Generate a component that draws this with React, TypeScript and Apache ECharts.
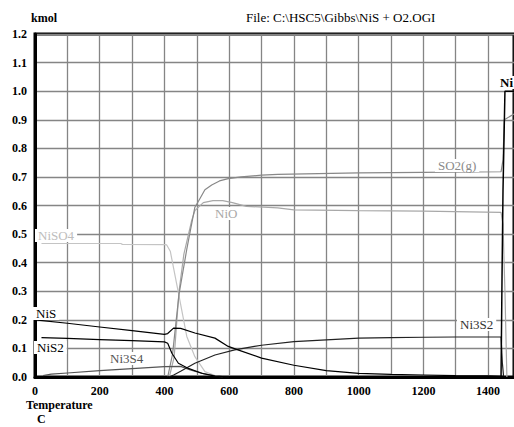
import React, { useEffect, useRef } from "react";
import * as echarts from "echarts";

// Temperature axis (C) and amount axis (kmol)
const xMin = 0;
const xMax = 1480;
const xStep = 100;
const yMin = 0;
const yMax = 1.2;
const yStep = 0.1;

// Species curves: [temperature C, kmol]
const nisSO4: [number, number][] = [
  [20, 0.467], [100, 0.467], [200, 0.467], [265, 0.467], [270, 0.464], [400, 0.463], [407, 0.462],
  [418, 0.44], [443, 0.295], [469, 0.142], [494, 0.071], [525, 0.019], [560, 0.003], [580, 0],
];
const nio: [number, number][] = [
  [415, 0], [430, 0.07], [445, 0.3], [460, 0.43], [484, 0.547], [494, 0.582], [520, 0.61],
  [550, 0.617], [580, 0.617], [610, 0.61], [653, 0.597], [750, 0.592], [800, 0.585],
  [1000, 0.582], [1200, 0.58], [1440, 0.576], [1446, 0.535], [1452, 0.3], [1458, 0],
];
const so2: [number, number][] = [
  [410, 0], [425, 0.08], [445, 0.29], [469, 0.447], [494, 0.594], [505, 0.615], [525, 0.655],
  [546, 0.672], [570, 0.686], [597, 0.694], [637, 0.7], [700, 0.706], [750, 0.709],
  [1000, 0.714], [1200, 0.716], [1440, 0.718], [1446, 0.76], [1450, 0.9], [1480, 0.92],
];
const ni3S4: [number, number][] = [
  [25, 0.005], [50, 0.01], [100, 0.014], [200, 0.022], [300, 0.029], [400, 0.036], [450, 0.037],
  [480, 0.025], [520, 0.012], [560, 0.003], [600, 0],
];
const ni3S2: [number, number][] = [
  [415, 0], [430, 0.008], [450, 0.02], [494, 0.048], [556, 0.077], [617, 0.095], [678, 0.107],
  [700, 0.111], [800, 0.124], [900, 0.13], [1000, 0.136], [1100, 0.138], [1200, 0.139],
  [1300, 0.14], [1400, 0.14], [1440, 0.14], [1444, 0.05], [1448, 0],
];
const nis: [number, number][] = [
  [0, 0.2], [100, 0.188], [200, 0.175], [300, 0.162], [400, 0.149], [410, 0.152], [428, 0.171],
  [450, 0.17], [494, 0.154], [556, 0.136], [597, 0.107], [627, 0.095], [700, 0.066],
  [800, 0.041], [900, 0.022], [1000, 0.013], [1100, 0.009], [1200, 0.007], [1300, 0.005],
  [1400, 0.004], [1445, 0.002], [1450, 0],
];
const nis2: [number, number][] = [
  [20, 0.138], [100, 0.135], [200, 0.131], [300, 0.127], [400, 0.123], [410, 0.118],
  [423, 0.083], [443, 0.048], [474, 0.03], [515, 0.013], [556, 0.003], [600, 0],
];
const ni: [number, number][] = [
  [0, 0], [1440, 0], [1443, 0.35], [1446, 0.65], [1452, 1.0], [1480, 1.0],
];

const serif = "'Liberation Serif', 'Times New Roman', serif";

export default function App() {
  const ref = useRef<HTMLDivElement>(null);
  useEffect(() => {
    if (!ref.current) return;
    const chart = echarts.init(ref.current, null, { renderer: "svg" });
    const line = (name: string, data: [number, number][], color: string, width = 1.2) => ({
      name,
      type: "line",
      data,
      symbol: "none",
      showSymbol: false,
      lineStyle: { color, width },
      clip: true,
      silent: true,
    });
    const label = (text: string, x: number, y: number, color: string, bold = false) => ({
      type: "text",
      x,
      y,
      z: 10,
      style: {
        text,
        fill: color,
        font: `${bold ? "bold " : ""}13px ${serif}`,
        backgroundColor: "#fff",
        padding: [0, 3, 0, 3],
      },
    });
    chart.setOption({
      animation: false,
      backgroundColor: "#fff",
      grid: {
        left: 35,
        top: 34,
        right: -3,
        bottom: 50,
        show: true,
        borderColor: "#000",
        borderWidth: 3,
        containLabel: false,
      },
      xAxis: {
        type: "value",
        min: xMin,
        max: xMax,
        interval: xStep,
        axisLine: { show: true, onZero: false, lineStyle: { color: "#000", width: 3 } },
        axisTick: { show: false },
        splitLine: { show: true, lineStyle: { color: "#858585", width: 1.3 } },
        axisLabel: {
          margin: 8,
          showMaxLabel: false,
          color: "#000",
          fontFamily: serif,
          fontWeight: "bold",
          fontSize: 12,
          formatter: (v: number) => (v % 200 === 0 ? String(v) : ""),
        },
      },
      yAxis: {
        type: "value",
        min: yMin,
        max: yMax,
        interval: yStep,
        axisLine: { show: true, lineStyle: { color: "#000", width: 3 } },
        axisTick: { show: false },
        splitLine: { show: true, lineStyle: { color: "#858585", width: 1.3 } },
        axisLabel: {
          margin: 8,
          color: "#000",
          fontFamily: serif,
          fontWeight: "bold",
          fontSize: 12,
          formatter: (v: number) => v.toFixed(1),
        },
      },
      series: [
        line("NiSO4", nisSO4, "#c4c4c4"),
        line("NiO", nio, "#a8a8a8"),
        line("SO2(g)", so2, "#888888"),
        line("Ni3S4", ni3S4, "#555555"),
        line("Ni3S2", ni3S2, "#222222"),
        line("NiS", nis, "#000000"),
        line("NiS2", nis2, "#000000"),
        line("Ni", ni, "#000000", 1.5),
      ],
      graphic: [
        { type: "text", x: 31, y: 12, style: { text: "kmol", fill: "#000", font: `bold 12px ${serif}` } },
        {
          type: "text",
          x: 246,
          y: 11,
          style: { text: "File: C:\\HSC5\\Gibbs\\NiS + O2.OGI", fill: "#000", font: `13px ${serif}` },
        },
        { type: "text", x: 26, y: 399, style: { text: "Temperature", fill: "#000", font: `bold 12px ${serif}` } },
        { type: "text", x: 37, y: 413, style: { text: "C", fill: "#000", font: `bold 12px ${serif}` } },
        label("NiSO4", 35, 229, "#bdbdbd"),
        label("NiO", 212, 207, "#a8a8a8"),
        label("SO2(g)", 435, 159, "#8a8a8a"),
        label("Ni3S2", 457, 318, "#333333"),
        label("Ni", 497, 76, "#000000", true),
        label("NiS", 33, 307, "#000000"),
        label("NiS2", 34, 341, "#000000"),
        label("Ni3S4", 107, 352, "#555555"),
      ],
    });
    return () => chart.dispose();
  }, []);
  return (
    <div
      ref={ref}
      style={{ position: "fixed", left: 0, top: 0, width: 514, height: 427, background: "#fff" }}
    />
  );
}
